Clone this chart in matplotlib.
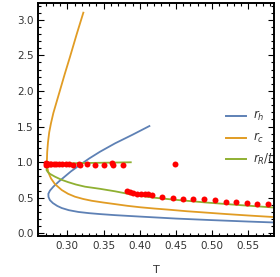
import numpy as np
import matplotlib
matplotlib.use('Agg')
import matplotlib.pyplot as plt
from matplotlib.ticker import MultipleLocator

# ---- curves (T, r) ----
rh_T = [0.4133, 0.3900, 0.3659, 0.3451, 0.3300, 0.3152, 0.3050, 0.2968, 0.2880, 0.2807,
        0.2760, 0.2738, 0.2740, 0.2760, 0.2800, 0.2860, 0.2923, 0.3020, 0.3152, 0.3300,
        0.3451, 0.3659, 0.4000, 0.4500, 0.5000, 0.5500, 0.5855]
rh_r = [1.507, 1.385, 1.264, 1.146, 1.050, 0.945, 0.870, 0.800, 0.725, 0.655,
        0.600, 0.555, 0.510, 0.465, 0.425, 0.385, 0.355, 0.325, 0.300, 0.283,
        0.270, 0.255, 0.235, 0.207, 0.185, 0.165, 0.152]

rc_T = [0.3221, 0.3130, 0.3037, 0.2965, 0.2899, 0.2850, 0.2807, 0.2775, 0.2750, 0.2733,
        0.2722, 0.2718, 0.2722, 0.2740, 0.2775, 0.2830, 0.2923, 0.3010, 0.3106, 0.3220,
        0.3337, 0.3500, 0.3659, 0.3830, 0.4004, 0.4200, 0.4400, 0.4650, 0.4925, 0.5200,
        0.5500, 0.5855]
rc_r = [3.10, 2.80, 2.48, 2.24, 2.01, 1.84, 1.69, 1.55, 1.42, 1.28,
        1.14, 1.02, 0.93, 0.85, 0.77, 0.69, 0.608, 0.555, 0.514, 0.482,
        0.457, 0.432, 0.410, 0.386, 0.366, 0.348, 0.332, 0.310, 0.290, 0.270,
        0.250, 0.228]

rR_T = [0.3876, 0.3659, 0.3400, 0.3100, 0.2900, 0.2800, 0.2745, 0.2718, 0.2712, 0.2730,
        0.2760, 0.2830, 0.2920, 0.3014, 0.3120, 0.3244, 0.3451, 0.3659, 0.3912, 0.4200,
        0.4500, 0.4925, 0.5400, 0.5855]
rR_r = [0.998, 0.994, 0.990, 0.985, 0.975, 0.960, 0.940, 0.915, 0.890, 0.862,
        0.835, 0.795, 0.752, 0.718, 0.685, 0.655, 0.625, 0.590, 0.540, 0.500,
        0.470, 0.432, 0.395, 0.362]

# ---- numerical points ----
pts_T = [0.2705, 0.2708, 0.2718, 0.2735, 0.2755, 0.2780, 0.2810, 0.2850, 0.2890, 0.2930,
         0.2975, 0.3020, 0.3080, 0.3160, 0.3175, 0.3268, 0.3383, 0.3507, 0.3613, 0.3635,
         0.3765, 0.4480,
         0.3820, 0.3866, 0.3912, 0.3967, 0.4018, 0.4073, 0.4120, 0.4166, 0.4304, 0.4456,
         0.4594, 0.4740, 0.4888, 0.5040, 0.5188, 0.5330, 0.5478, 0.5624, 0.5776]
pts_r = [0.985, 0.955, 0.975, 0.980, 0.978, 0.975, 0.980, 0.975, 0.975, 0.970,
         0.972, 0.968, 0.965, 0.970, 0.962, 0.968, 0.966, 0.955, 0.983, 0.958,
         0.955, 0.980,
         0.594, 0.575, 0.563, 0.550, 0.548, 0.548, 0.548, 0.535, 0.515, 0.500,
         0.488, 0.478, 0.477, 0.463, 0.440, 0.435, 0.421, 0.407, 0.407]

labels = ['$r_h$', '$r_c$', '$r_R/t$']
colors = ['#5E81B5', '#E19C24', '#8FB032']

fig = plt.figure(figsize=(2.8, 2.77), dpi=100)
ax = fig.add_axes([0.137, 0.148, 0.842, 0.842])

ax.plot(rh_T, rh_r, color=colors[0], lw=1.3)
ax.plot(rc_T, rc_r, color=colors[1], lw=1.3)
ax.plot(rR_T, rR_r, color=colors[2], lw=1.3)
ax.plot(pts_T, pts_r, 'o', color='red', ms=4.3, mew=0)

ax.set_xlim(0.26, 0.5855)
ax.set_ylim(-0.038, 3.239)
ax.xaxis.set_major_locator(MultipleLocator(0.05))
ax.xaxis.set_minor_locator(MultipleLocator(0.01))
ax.yaxis.set_major_locator(MultipleLocator(0.5))
ax.yaxis.set_minor_locator(MultipleLocator(0.1))
ax.xaxis.set_major_formatter(plt.FormatStrFormatter('%.2f'))
ax.yaxis.set_major_formatter(plt.FormatStrFormatter('%.1f'))
ax.tick_params(which='both', direction='in', top=True, right=True,
               labelsize=7.5, labelcolor='#333333', width=0.8)
ax.tick_params(which='major', length=4)
ax.tick_params(which='minor', length=2)
for s in ax.spines.values():
    s.set_linewidth(1.4)
ax.set_xlabel('T', fontsize=8, color='#333333', labelpad=10)

# hand made legend, clipped at the frame like the original
ly = [0.514, 0.422, 0.330]
for i in range(3):
    ax.plot([0.796, 0.881], [ly[i], ly[i]], color=colors[i], lw=1.4,
            transform=ax.transAxes)
    ax.text(0.911, ly[i], labels[i], transform=ax.transAxes, fontsize=8.5,
            color='#333333', va='center', ha='left', clip_on=True)

fig.savefig('out.png', dpi=100)
